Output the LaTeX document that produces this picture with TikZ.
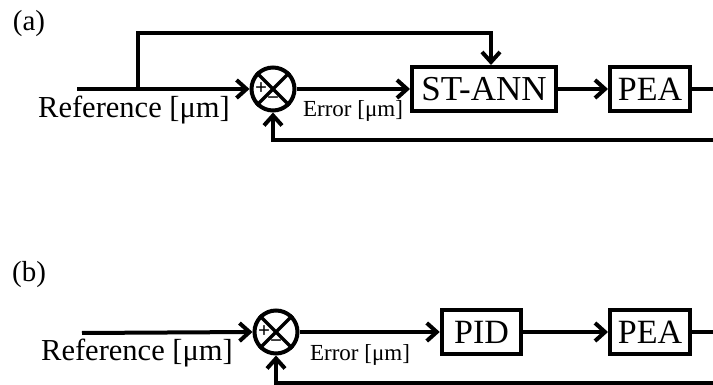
\documentclass[tikz,border=0pt]{standalone}
\usepackage{fontspec}
\setmainfont{Liberation Serif}
\usetikzlibrary{arrows.meta, calc}
\tikzset{
  block/.style={rectangle, draw=black, line width=4pt, minimum height=44pt,
    inner sep=0pt, font=\fontsize{34}{40}\selectfont},
  sumjunc/.style={circle, draw=black, line width=4pt, minimum size=43pt, inner sep=0pt},
  sign/.style={inner sep=0pt, font=\fontsize{21}{24}\selectfont\bfseries},
  arrow/.style={-{Straight Barb[length=10pt, width=18pt]}, line width=4pt},
  line/.style={line width=4pt},
  cross/.style={line width=3.2pt},
  sig/.style={anchor=base, inner sep=0pt},
  tag/.style={inner sep=0pt, font=\fontsize{29}{34}\selectfont}
}

\begin{document}
\begin{tikzpicture}[x=1pt, y=-1pt]
  \useasboundingbox (0,0) rectangle (713,385);

  % (a) loop with the ST-ANN controller
  \node[tag] (tagA) at (29,24) {(a)};
  \coordinate (refA) at (77,89);
  \coordinate (brA) at (138,89);
  \coordinate (topA) at (491,33);
  \node[sumjunc] (sumA) at (273,89) {};
  \node[block, minimum width=144pt, font=\fontsize{35}{40}\selectfont] (ann) at (484,89) {ST-ANN};
  \node[block, minimum width=80pt] (peaA) at (650,89) {PEA};
  \coordinate (outA) at (713,89);
  \coordinate (fbA) at (713,140);

  % summing junction signs
  \draw[cross] (sumA.north west) -- (sumA.south east) (sumA.north east) -- (sumA.south west);
  \node[sign] (plusA) at (261,89) {+};
  \node[sign] (minusA) at (273,101) {−};

  % signal labels
  \node[sig, font=\fontsize{30.5}{36}\selectfont] (refTxtA) at (134,118) {Reference [μm]};
  \node[sig, font=\fontsize{23}{26}\selectfont] (errTxtA) at (353,117) {Error [μm]};

  % connections
  \draw[arrow] (refA) -- (sumA.west);
  \draw[arrow] (brA) |- (topA) -- (topA |- ann.north);
  \draw[arrow] (sumA.east) -- (ann.west);
  \draw[arrow] (ann.east) -- (peaA.west);
  \draw[line] (peaA.east) -- (outA);
  \draw[arrow] (fbA) -| (sumA.south);

  % (b) loop with the PID controller
  \node[tag] (tagB) at (29,275) {(b)};
  \coordinate (refB) at (82,333);
  \node[sumjunc] (sumB) at (276,332) {};
  \node[block, minimum width=79.5pt] (pid) at (481.5,332) {PID};
  \node[block, minimum width=80pt] (peaB) at (650,332) {PEA};
  \coordinate (outB) at (713,332);
  \coordinate (fbB) at (713,383);

  % summing junction signs
  \draw[cross] (sumB.north west) -- (sumB.south east) (sumB.north east) -- (sumB.south west);
  \node[sign] (plusB) at (264,332) {+};
  \node[sign] (minusB) at (276,344) {−};

  % signal labels
  \node[sig, font=\fontsize{30.5}{36}\selectfont] (refTxtB) at (137,360) {Reference [μm]};
  \node[sig, font=\fontsize{23}{26}\selectfont] (errTxtB) at (360,360) {Error [μm]};

  % connections
  \draw[arrow] (refB) -- (sumB.west);
  \draw[arrow] (sumB.east) -- (pid.west);
  \draw[arrow] (pid.east) -- (peaB.west);
  \draw[line] (peaB.east) -- (outB);
  \draw[arrow] (fbB) -| (sumB.south);
\end{tikzpicture}
\end{document}
